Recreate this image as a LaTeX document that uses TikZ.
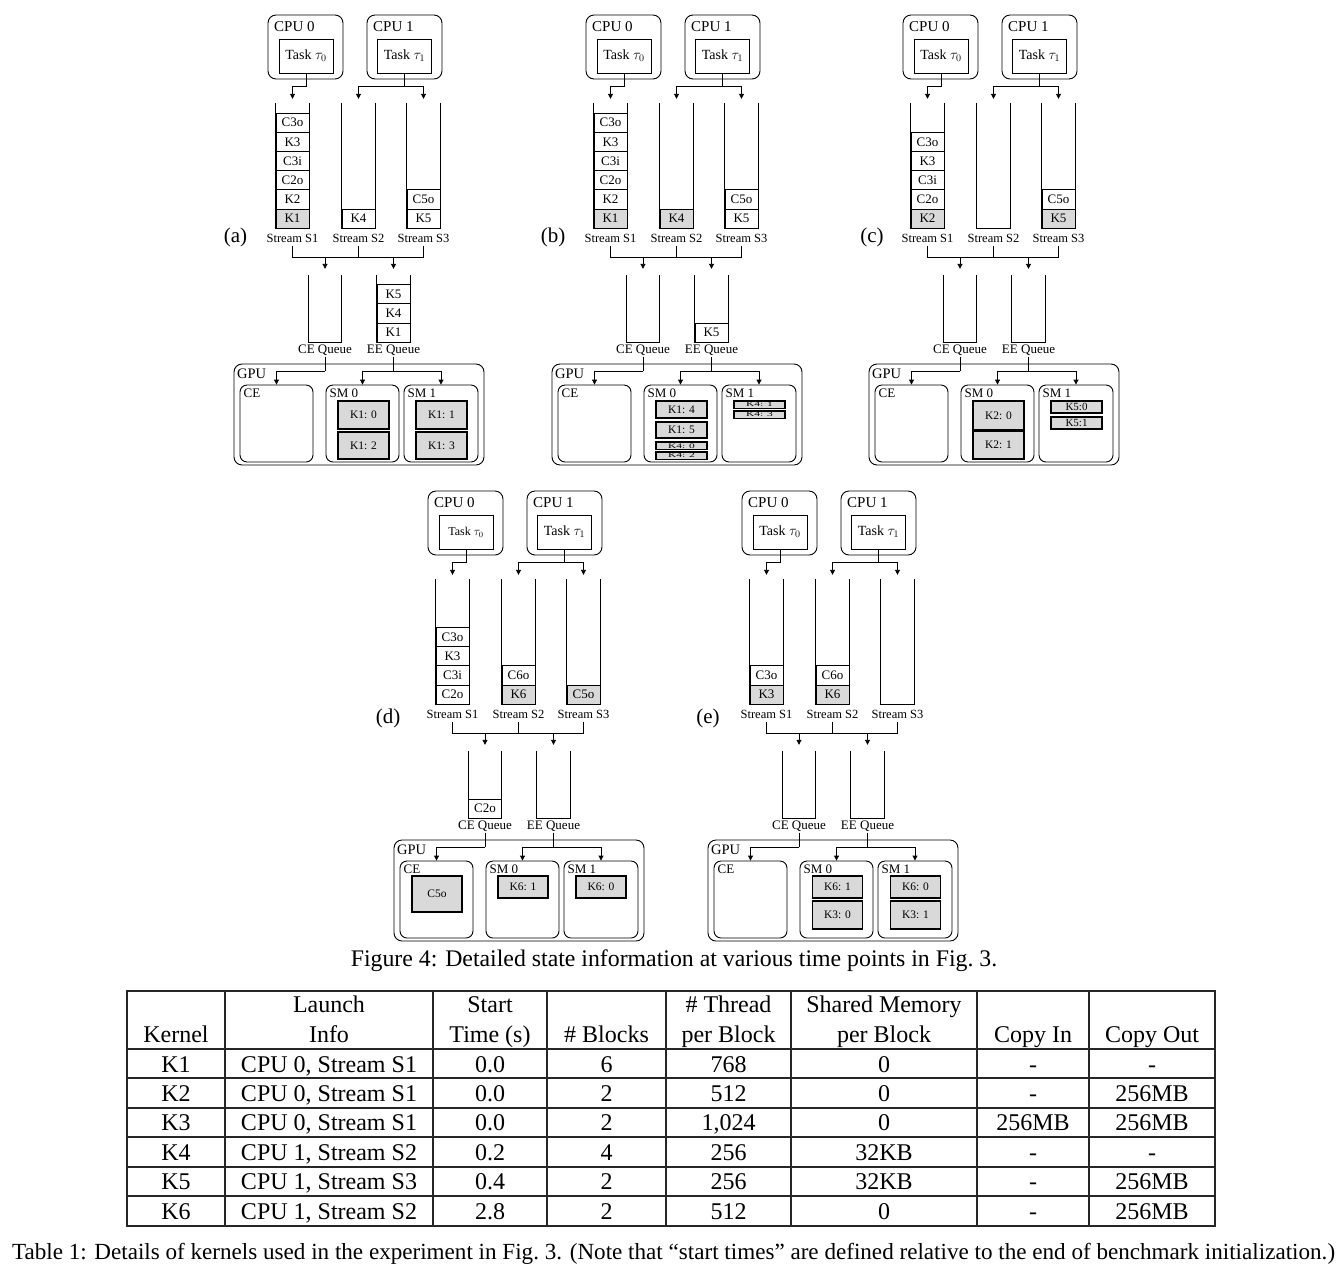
\documentclass[tikz,border=0pt]{standalone}
\usepackage{fontspec}
\setmainfont{Liberation Serif}
\usetikzlibrary{arrows.meta,calc}

\newcommand\fs[1]{\fontsize{#1}{#1}\selectfont}

\tikzset{
  ln/.style={line width=0.9pt},
  arr/.style={ln, -{Triangle[length=5pt,width=5pt]}},
  cpubox/.style={draw, ln, rounded corners=8pt, minimum width=75pt, minimum height=64pt, inner sep=0},
  taskbox/.style={draw, ln, minimum width=54pt, minimum height=34pt, inner sep=0},
  lab/.style={inner sep=0, font=\fs{13}},
  cellbox/.style={draw, ln, minimum width=33pt, minimum height=19.2pt, inner sep=0, font=\fs{13}},
  hot/.style={fill=black!15},
  slot/.style={minimum width=33pt, inner sep=0},
  unitbox/.style={draw, ln, rounded corners=7pt, minimum height=77pt, inner sep=0},
  blkbox/.style={draw, line width=1.1pt, fill=black!15, minimum width=51pt, inner sep=0, font=\fs{11.5}},
  tline/.style={line width=1.3pt, black!85},
  tcell/.style={inner sep=0, anchor=base, font=\fs{24}},
}

% panel skeleton: #1 prefix, #2 font size of task 0
\newcommand\skel[2]{%
  \node[cpubox] (#1-c0) at (305.5,47) {};
  \node[lab, anchor=base west, font=\fs{15}] (#1-c0l) at (274,31) {CPU 0};
  \node[cpubox] (#1-c1) at (404.5,47) {};
  \node[lab, anchor=base west, font=\fs{15}] (#1-c1l) at (373,31) {CPU 1};
  \node[taskbox, font=\fs{#2}] (#1-t0) at (306,56) {Task $\tau_0$};
  \node[taskbox, font=\fs{14}] (#1-t1) at (404.5,56) {Task $\tau_1$};
  \node[slot, minimum height=125pt] (#1-s1) at (292.5,165.5) {};
  \node[slot, minimum height=125pt] (#1-s2) at (358.5,165.5) {};
  \node[slot, minimum height=125pt] (#1-s3) at (423.5,165.5) {};
  \foreach \s in {s1,s2,s3} {\draw[ln] (#1-\s.north west) -- (#1-\s.south west) -- (#1-\s.south east) -- (#1-\s.north east);}
  \draw[arr, shorten >=4pt] (#1-t0.south) -- ++(0,13) -| (#1-s1.north);
  \draw[ln] (#1-t1.south) -- ++(0,13) coordinate (#1-j1);
  \draw[arr, shorten >=4pt] (#1-j1) -| (#1-s2.north);
  \draw[arr, shorten >=4pt] (#1-j1) -| (#1-s3.north);
  \node[lab, font=\fs{12.5}] (#1-l1) at (292.5,238) {Stream S1};
  \node[lab, font=\fs{12.5}] (#1-l2) at (358.5,238) {Stream S2};
  \node[lab, font=\fs{12.5}] (#1-l3) at (423.5,238) {Stream S3};
  \coordinate (#1-mid) at (0,257);
  \node[slot, minimum height=67pt] (#1-ceq) at (325,308.5) {};
  \node[slot, minimum height=67pt] (#1-eeq) at (393.5,308.5) {};
  \foreach \s in {ceq,eeq} {\draw[ln] (#1-\s.north west) -- (#1-\s.south west) -- (#1-\s.south east) -- (#1-\s.north east);}
  \draw[ln] ([yshift=-4pt]#1-l1.south) -- (#1-l1.south |- #1-mid) -- (#1-l3.south |- #1-mid) -- ([yshift=-4pt]#1-l3.south);
  \draw[ln] ([yshift=-4pt]#1-l2.south) -- (#1-l2.south |- #1-mid);
  \draw[arr, shorten >=6pt] (#1-ceq.north |- #1-mid) -- (#1-ceq.north);
  \draw[arr, shorten >=6pt] (#1-eeq.north |- #1-mid) -- (#1-eeq.north);
  \node[lab] (#1-cel) at (325,350) {CE Queue};
  \node[lab] (#1-eel) at (393.5,350) {EE Queue};
  \node[draw, ln, rounded corners=8pt, minimum width=250pt, minimum height=101pt] (#1-gpu) at (359,414.5) {};
  \node[lab, anchor=base west, font=\fs{14.5}] (#1-gpul) at (237,378) {GPU};
  \node[unitbox, minimum width=73pt] (#1-ce) at (276.5,423.5) {};
  \node[unitbox, minimum width=73pt] (#1-sm0) at (362.5,423.5) {};
  \node[unitbox, minimum width=74pt] (#1-sm1) at (441,423.5) {};
  \node[lab, anchor=base west, font=\fs{13}] (#1-cell) at (243.5,397) {CE};
  \node[lab, anchor=base west, font=\fs{13}] (#1-sm0l) at (329.5,397) {SM 0};
  \node[lab, anchor=base west, font=\fs{13}] (#1-sm1l) at (407.5,397) {SM 1};
  \coordinate (#1-mid2) at (0,371);
  \draw[ln] ([yshift=-1pt]#1-cel.south) -- (#1-cel.south |- #1-mid2);
  \draw[arr] (#1-cel.south |- #1-mid2) -| (#1-ce.north);
  \draw[ln] ([yshift=-1pt]#1-eel.south) -- (#1-eel.south |- #1-mid2);
  \draw[arr] (#1-eel.south |- #1-mid2) -| (#1-sm0.north);
  \draw[arr] (#1-eel.south |- #1-mid2) -| (#1-sm1.north);
}

% cell: #1 prefix, #2 container, #3 index from bottom, #4 text, #5 style
\newcommand\cell[5]{%
  \node[cellbox,#5] (#1-#2-#3) at ($(#1-#2.south)+(0,{-9.6-19.2*#3})$) {#4};
}
\newcommand\sq[1]{\scalebox{1}[0.6]{#1}}

\begin{document}
\begin{tikzpicture}[x=1pt,y=-1pt]
\useasboundingbox (0,0) rectangle (1342,1278);
\fill[white] (0,0) rectangle (1342,1278);

% ---------------- (a)
\begin{scope}
\skel{a}{14}
\cell{a}{s1}{0}{K1}{hot}\cell{a}{s1}{1}{K2}{}\cell{a}{s1}{2}{C2o}{}\cell{a}{s1}{3}{C3i}{}\cell{a}{s1}{4}{K3}{}\cell{a}{s1}{5}{C3o}{}
\cell{a}{s2}{0}{K4}{}
\cell{a}{s3}{0}{K5}{}\cell{a}{s3}{1}{C5o}{}
\cell{a}{eeq}{0}{K1}{}\cell{a}{eeq}{1}{K4}{}\cell{a}{eeq}{2}{K5}{}
\node[blkbox, minimum height=28pt] (a-b0) at (363.5,415) {K1: 0};
\node[blkbox, minimum height=27pt] (a-b2) at (363.5,445.5) {K1: 2};
\node[blkbox, minimum height=28pt] (a-b1) at (441.5,415) {K1: 1};
\node[blkbox, minimum height=27pt] (a-b3) at (441.5,445.5) {K1: 3};
\end{scope}
\node[lab, font=\fs{21}] (lab-a) at (235.5,237) {(a)};

% ---------------- (b)
\begin{scope}[shift={(318,0)}]
\skel{b}{14}
\cell{b}{s1}{0}{K1}{hot}\cell{b}{s1}{1}{K2}{}\cell{b}{s1}{2}{C2o}{}\cell{b}{s1}{3}{C3i}{}\cell{b}{s1}{4}{K3}{}\cell{b}{s1}{5}{C3o}{}
\cell{b}{s2}{0}{K4}{hot}
\cell{b}{s3}{0}{K5}{}\cell{b}{s3}{1}{C5o}{}
\cell{b}{eeq}{0}{K5}{}
\node[blkbox, minimum height=17pt] (b-b4) at (363.5,409.5) {K1: 4};
\node[blkbox, minimum height=16pt] (b-b5) at (363.5,430) {K1: 5};
\node[blkbox, minimum height=7.5pt] (b-d0) at (363.5,445.75) {\sq{K4: 0}};
\node[blkbox, minimum height=7.5pt] (b-d2) at (363.5,455.75) {\sq{K4: 2}};
\node[blkbox, minimum height=7.5pt] (b-d1) at (441.5,404.75) {\sq{K4: 1}};
\node[blkbox, minimum height=7.5pt] (b-d3) at (441.5,414.75) {\sq{K4: 3}};
\end{scope}
\node[lab, font=\fs{21}] (lab-b) at (553,237) {(b)};

% ---------------- (c)
\begin{scope}[shift={(635,0)}]
\skel{c}{14}
\cell{c}{s1}{0}{K2}{hot}\cell{c}{s1}{1}{C2o}{}\cell{c}{s1}{2}{C3i}{}\cell{c}{s1}{3}{K3}{}\cell{c}{s1}{4}{C3o}{}
\cell{c}{s3}{0}{K5}{hot}\cell{c}{s3}{1}{C5o}{}
\node[blkbox, minimum height=29pt] (c-b0) at (363.5,415.5) {K2: 0};
\node[blkbox, minimum height=27.5pt] (c-b1) at (363.5,445.25) {K2: 1};
\node[blkbox, minimum height=12pt, font=\fs{11}] (c-e0) at (441.5,407) {K5:0};
\node[blkbox, minimum height=12pt, font=\fs{11}] (c-e1) at (441.5,423) {K5:1};
\end{scope}
\node[lab, font=\fs{21}] (lab-c) at (872,237) {(c)};

% ---------------- (d)
\begin{scope}[shift={(160,476)}]
\skel{d}{12}
\cell{d}{s1}{0}{C2o}{}\cell{d}{s1}{1}{C3i}{}\cell{d}{s1}{2}{K3}{}\cell{d}{s1}{3}{C3o}{}
\cell{d}{s2}{0}{K6}{hot}\cell{d}{s2}{1}{C6o}{}
\cell{d}{s3}{0}{C5o}{hot}
\cell{d}{ceq}{0}{C2o}{}
\node[blkbox, minimum width=50pt, minimum height=36pt] (d-x0) at (277,418) {C5o};
\node[blkbox, minimum width=50pt, minimum height=22pt] (d-b1) at (363,411) {K6: 1};
\node[blkbox, minimum width=50pt, minimum height=22pt] (d-b0) at (441,411) {K6: 0};
\end{scope}
\node[lab, font=\fs{21}] (lab-d) at (388,718) {(d)};

% ---------------- (e)
\begin{scope}[shift={(474,476)}]
\skel{e}{14}
\cell{e}{s1}{0}{K3}{hot}\cell{e}{s1}{1}{C3o}{}
\cell{e}{s2}{0}{K6}{hot}\cell{e}{s2}{1}{C6o}{}
\node[blkbox, minimum width=50pt, minimum height=22pt] (e-b1) at (363.5,411) {K6: 1};
\node[blkbox, minimum width=50pt, minimum height=28pt] (e-b2) at (363.5,439) {K3: 0};
\node[blkbox, minimum width=50pt, minimum height=22pt] (e-b0) at (441.5,411) {K6: 0};
\node[blkbox, minimum width=50pt, minimum height=28pt] (e-b3) at (441.5,439) {K3: 1};
\end{scope}
\node[lab, font=\fs{21}] (lab-e) at (708,718) {(e)};

% ---------------- captions
\node[inner sep=0, anchor=base, font=\fs{23.8}] (fig-cap) at (674,966) {Figure 4: Detailed state information at various time points in Fig.~3.};

% ---------------- table
\draw[tline] (127,991) rectangle (1215,1226);
\foreach \yy in {1049,1078,1108,1137,1167,1196} {\draw[tline] (127,\yy) -- (1215,\yy);}
\foreach \xx in {225,433,547,666,791,977,1089} {\draw[tline] (\xx,991) -- (\xx,1226);}

\node[tcell] (h1-2) at (329,1012) {Launch};
\node[tcell] (h1-3) at (490,1012) {Start};
\node[tcell] (h1-5) at (728.5,1012) {\# Thread};
\node[tcell] (h1-6) at (884,1012) {Shared Memory};
\node[tcell] (h2-1) at (176,1042) {Kernel};
\node[tcell] (h2-2) at (329,1042) {Info};
\node[tcell] (h2-3) at (490,1042) {Time (s)};
\node[tcell] (h2-4) at (606.5,1042) {\# Blocks};
\node[tcell] (h2-5) at (728.5,1042) {per Block};
\node[tcell] (h2-6) at (884,1042) {per Block};
\node[tcell] (h2-7) at (1033,1042) {Copy In};
\node[tcell] (h2-8) at (1152,1042) {Copy Out};

\foreach \r/\yy/\ca/\cb/\cc/\cd/\ce/\cf/\cg/\ch in {
  1/1072/K1/{CPU 0, Stream S1}/0.0/6/768/0/-/-,
  2/1101.5/K2/{CPU 0, Stream S1}/0.0/2/512/0/-/256MB,
  3/1130.5/K3/{CPU 0, Stream S1}/0.0/2/{1,024}/0/256MB/256MB,
  4/1160/K4/{CPU 1, Stream S2}/0.2/4/256/32KB/-/-,
  5/1189.5/K5/{CPU 1, Stream S3}/0.4/2/256/32KB/-/256MB,
  6/1219/K6/{CPU 1, Stream S2}/2.8/2/512/0/-/256MB} {
  \node[tcell] (r\r-1) at (176,\yy) {\ca};
  \node[tcell] (r\r-2) at (329,\yy) {\cb};
  \node[tcell] (r\r-3) at (490,\yy) {\cc};
  \node[tcell] (r\r-4) at (606.5,\yy) {\cd};
  \node[tcell] (r\r-5) at (728.5,\yy) {\ce};
  \node[tcell] (r\r-6) at (884,\yy) {\cf};
  \node[tcell] (r\r-7) at (1033,\yy) {\cg};
  \node[tcell] (r\r-8) at (1152,\yy) {\ch};
}

\node[inner sep=0, anchor=base, font=\fs{23.1}] (tab-cap) at (673.5,1259) {Table 1: Details of kernels used in the experiment in Fig.~3. (Note that “start times” are defined relative to the end of benchmark initialization.)};
\end{tikzpicture}
\end{document}
